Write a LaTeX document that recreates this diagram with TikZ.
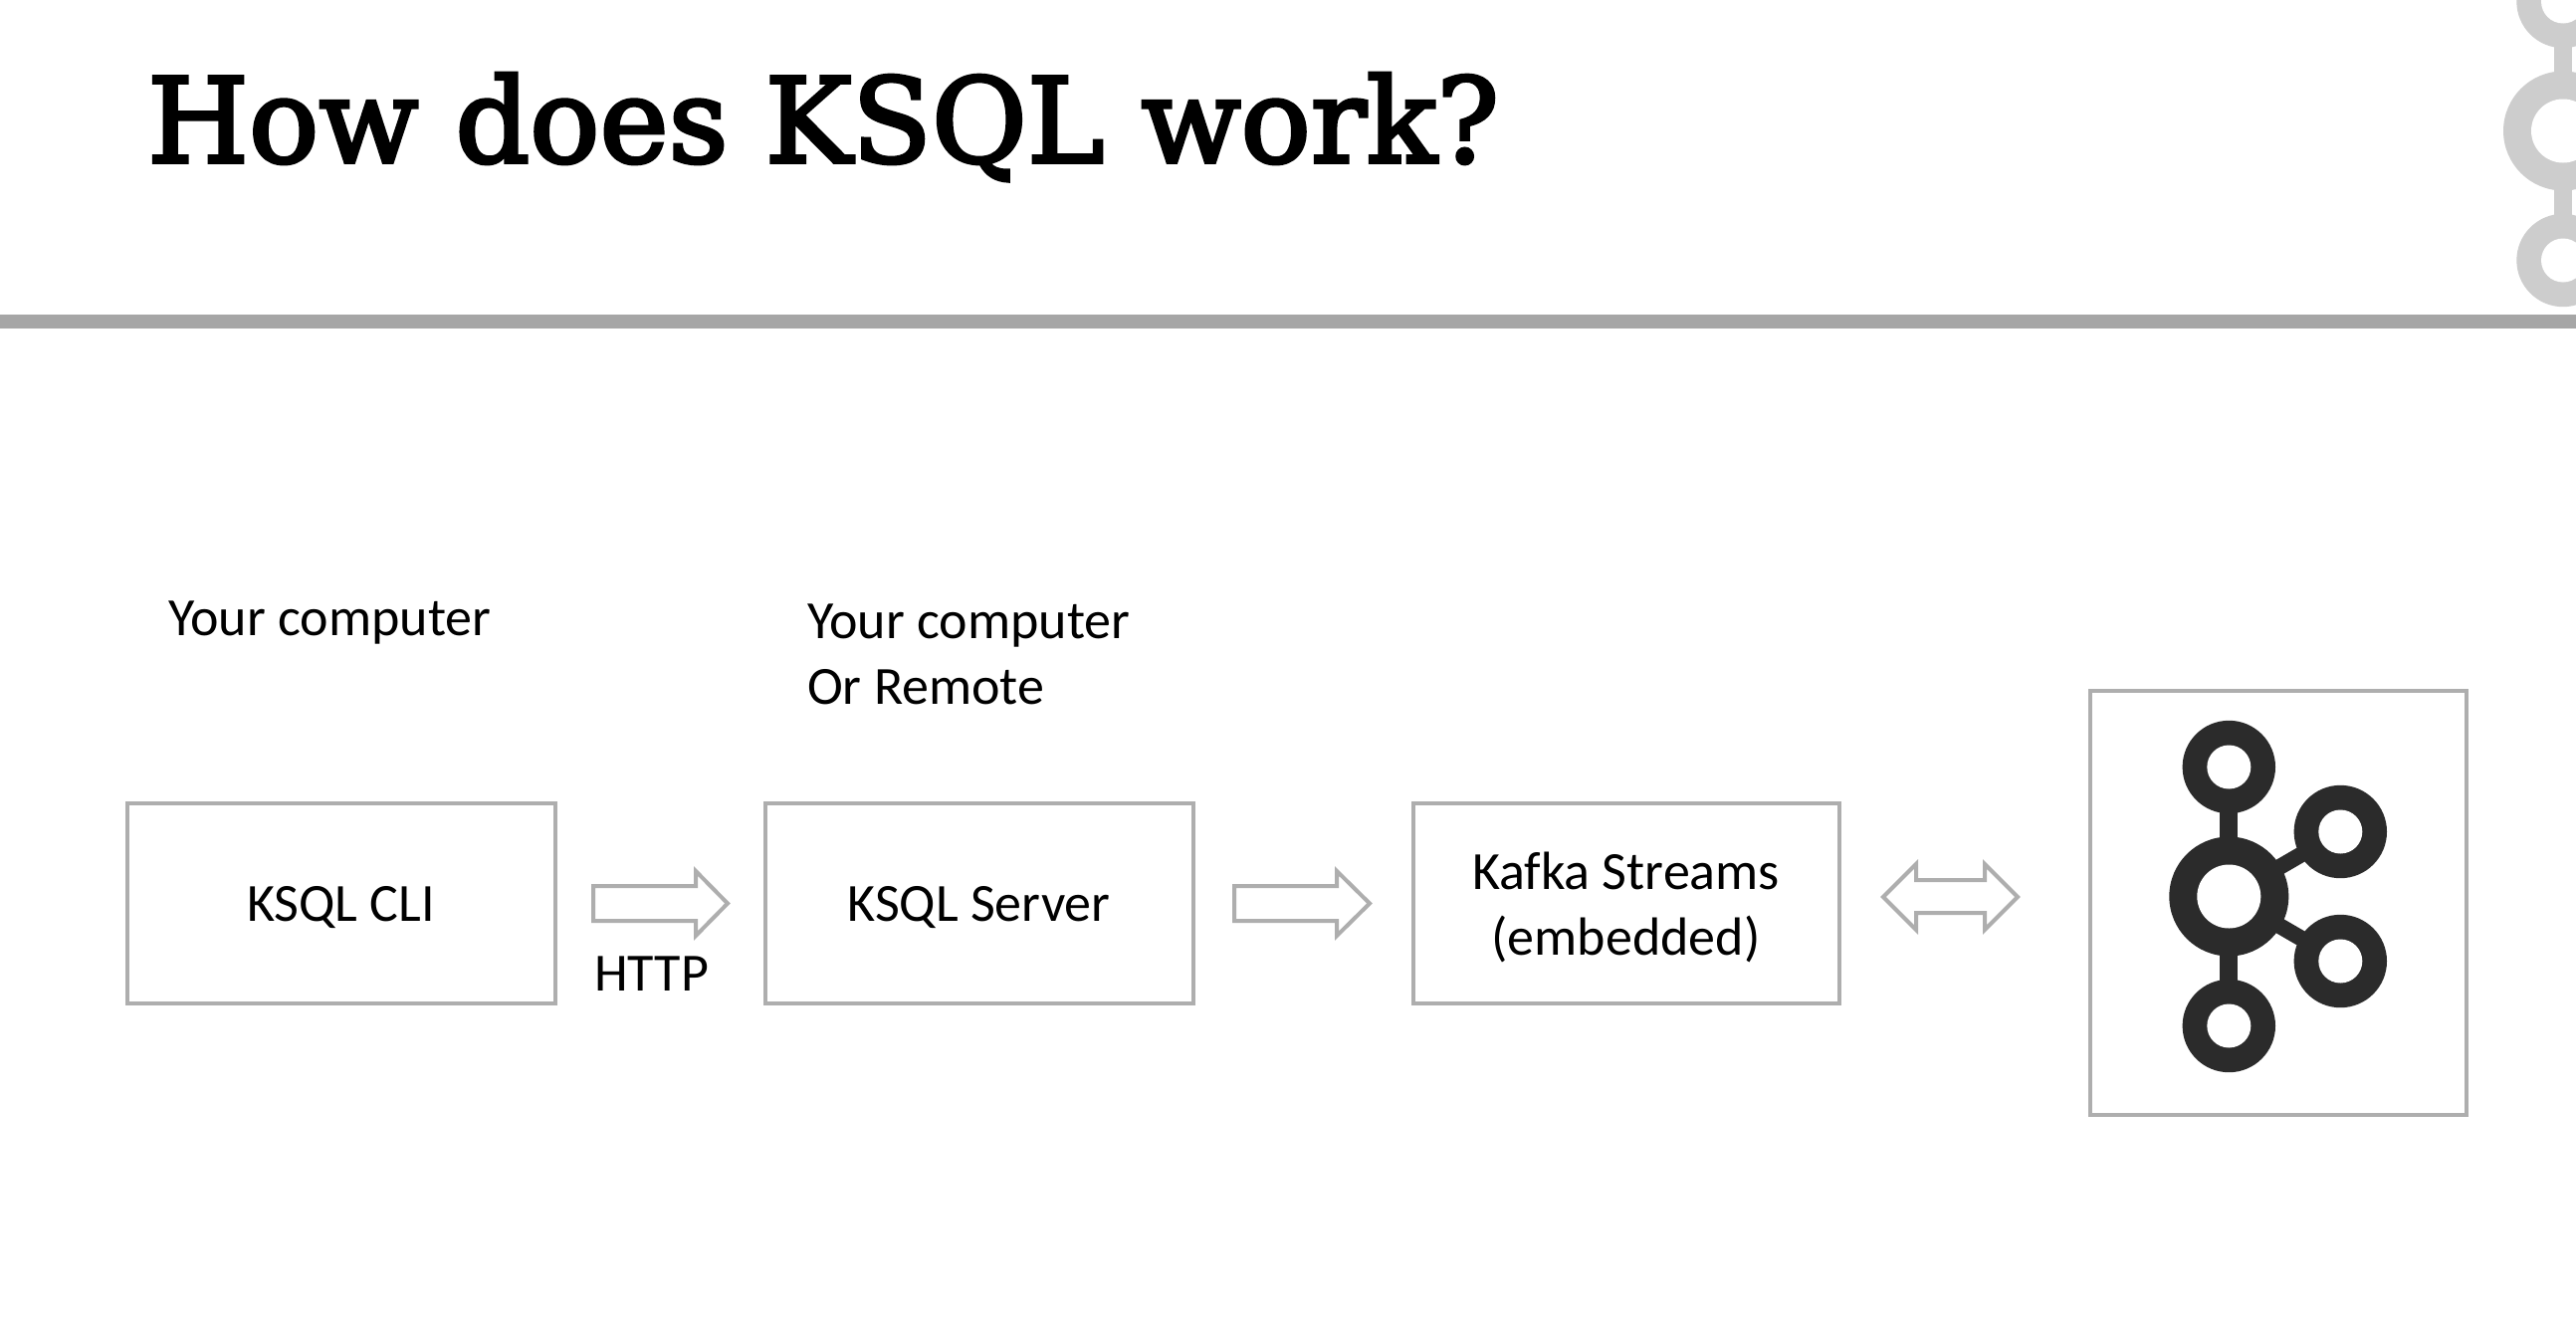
\documentclass[tikz,border=0pt]{standalone}
\usepackage{fontspec}
\setmainfont[Ligatures=NoCommon]{Carlito}
\newfontfamily\titlefont[FakeStretch=0.99,FakeBold=3]{DejaVu Serif}
\definecolor{edgegray}{HTML}{AEAEAE}
\definecolor{rulegray}{HTML}{A6A6A6}
\definecolor{logodark}{HTML}{2B2B2B}
\definecolor{logolight}{HTML}{CDCDCD}
\tikzset{
  x=1pt,y=-1pt,
  box/.style={draw=edgegray,line width=4pt,fill=white,rectangle,minimum width=430pt,minimum height=201pt,inner sep=0pt,align=center},
  lbl/.style={anchor=base west,inner sep=0pt,font=\fontsize{54}{66}\selectfont},
  blockarrow/.style={draw=edgegray,line width=4pt,fill=white,line join=miter}
}
\newcommand{\kafkalogo}[3]{%
  \begin{scope}[shift={(#1,#2)}]
    \fill[#3] (-9,-90) rectangle (9,90);
    \draw[#3,line width=16pt] (0,0) -- (112,-65);
    \draw[#3,line width=16pt] (0,0) -- (112,65);
    \fill[#3] (0,0) circle[radius=60];
    \fill[#3] (0,-130) circle[radius=46.7];
    \fill[#3] (0,130) circle[radius=46.7];
    \fill[#3] (112,-65) circle[radius=46.7];
    \fill[#3] (112,65) circle[radius=46.7];
    \fill[white] (0,0) circle[radius=32];
    \fill[white] (0,-130) circle[radius=22];
    \fill[white] (0,130) circle[radius=22];
    \fill[white] (112,-65) circle[radius=22];
    \fill[white] (112,65) circle[radius=22];
  \end{scope}}
\begin{document}
\begin{tikzpicture}
\useasboundingbox (0,0) rectangle (2588,1328);
\fill[white] (0,0) rectangle (2588,1328);
\begin{scope}
  \clip (0,0) rectangle (2588,1328);
  \kafkalogo{2575}{131.5}{logolight}
\end{scope}
\fill[rulegray] (0,316) rectangle (2588,330);
\node[anchor=base west,inner sep=0pt,font=\titlefont\fontsize{118}{130}\selectfont] (title) at (148,163) {How does KSQL work?};
\node[lbl] (you1) at (169,638) {Your computer};
\node[lbl] (you2a) at (811,641) {Your computer};
\node[lbl] (you2b) at (811,707) {Or Remote};
\node[box] (cli) at (343,907.5) {};
\node[box] (server) at (984,907.5) {};
\node[box,minimum width=428pt] (streams) at (1634,907.5) {};
\node[lbl,anchor=base] (clitext) at (342.5,925) {KSQL CLI};
\node[lbl,anchor=base] (servertext) at (983.5,925) {KSQL Server};
\node[lbl,anchor=base] (streamstext) at (1633.5,893) {Kafka Streams};
\node[lbl,anchor=base] (embeddedtext) at (1633.5,959) {(embedded)};
\node[draw=edgegray,line width=4pt,rectangle,minimum width=378pt,minimum height=426pt,inner sep=0pt] (cluster) at (2288.5,906.5) {};
\kafkalogo{2239.3}{900.5}{logodark}
\draw[blockarrow] (596,890) -- (699,890) -- (699,875) -- (731,907.5) -- (699,940) -- (699,925) -- (596,925) -- cycle;
\draw[blockarrow] (1240,890) -- (1343,890) -- (1343,875) -- (1376,907.5) -- (1343,940) -- (1343,925) -- (1240,925) -- cycle;
\draw[blockarrow] (1892,901) -- (1925,868) -- (1925,884) -- (1994,884) -- (1994,868) -- (2027,901) -- (1994,934) -- (1994,917) -- (1925,917) -- (1925,934) -- cycle;
\node[lbl] (http) at (597,995) {HTTP};
\end{tikzpicture}
\end{document}
